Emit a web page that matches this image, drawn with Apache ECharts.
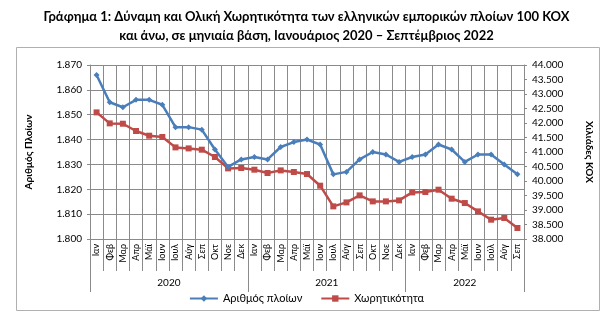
<!DOCTYPE html>
<html>
<head>
<meta charset="utf-8">
<script src="https://cdn.jsdelivr.net/npm/echarts@6/dist/echarts.min.js"></script>
<style>
  html, body { margin: 0; padding: 0; background: #fff; }
  #chart { width: 613px; height: 331px; }
</style>
</head>
<body>
<div id="chart"></div>
<script>
// Months, January 2020 – September 2022
const months = [
  'Ιαν','Φεβ','Μαρ','Απρ','Μάϊ','Ιουν','Ιουλ','Αύγ','Σεπ','Οκτ','Νοε','Δεκ',
  'Ιαν','Φεβ','Μαρ','Απρ','Μάϊ','Ιουν','Ιουλ','Αύγ','Σεπ','Οκτ','Νοε','Δεκ',
  'Ιαν','Φεβ','Μαρ','Απρ','Μάϊ','Ιουν','Ιούλ','Αύγ','Σεπ'
];
const years = ['2020', '2021', '2022'];
const monthsPerYear = [12, 12, 9];

// Number of ships (left axis)
const ships = [
  1866, 1855, 1853, 1856, 1856, 1854, 1845, 1845, 1844, 1836, 1829, 1832,
  1833, 1832, 1837, 1839, 1840, 1838, 1826, 1827, 1832, 1835, 1834, 1831,
  1833, 1834, 1838, 1836, 1831, 1834, 1834, 1830, 1826
];
// Gross tonnage, thousands GT (right axis)
const tonnage = [
  42366, 41987, 41975, 41724, 41562, 41517, 41159, 41124, 41080, 40828, 40435, 40448,
  40390, 40276, 40366, 40310, 40240, 39838, 39125, 39262, 39504, 39297, 39297, 39331,
  39607, 39620, 39700, 39390, 39240, 38952, 38666, 38724, 38380
];

const seriesNames = ['Αριθμός πλοίων', 'Χωρητικότητα'];
const leftName = 'Αριθμός Πλοίων';
const rightName = 'Χιλιάδες ΚΟΧ';
const titleText = 'Γράφημα 1: Δύναμη και Ολική Χωρητικότητα των ελληνικών εμπορικών πλοίων 100 ΚΟΧ\nκαι άνω, σε μηνιαία βάση, Ιανουάριος 2020 – Σεπτέμβριος 2022';

// Year group boundaries and centres, in month units
const yearEdges = [0];
monthsPerYear.forEach(n => yearEdges.push(yearEdges[yearEdges.length - 1] + n));
const yearCentres = monthsPerYear.map((n, i) => yearEdges[i] + n / 2);

const fmt = v => String(v).replace(/\B(?=(\d{3})+(?!\d))/g, '.');
const FONT = 'Lato, "Liberation Sans", sans-serif';
const GRID = '#8a8a8a';

const chart = echarts.init(document.getElementById('chart'), null, { renderer: 'canvas' });
chart.setOption({
  animation: false,
  textStyle: { fontFamily: FONT, color: '#000' },
  title: {
    text: titleText,
    left: 'center',
    top: 2,
    textStyle: { fontFamily: FONT, fontSize: 13, fontWeight: 'bold', color: '#000', lineHeight: 19 }
  },
  graphic: [{
    type: 'rect',
    shape: { x: 16.5, y: 47.5, width: 583, height: 263 },
    style: { fill: 'none', stroke: '#b0b0b0', lineWidth: 1 },
    silent: true
  }],
  legend: {
    bottom: 22,
    left: 'center',
    itemWidth: 28,
    itemHeight: 8,
    itemGap: 18,
    textStyle: { fontFamily: FONT, fontSize: 11, color: '#000' },
    data: seriesNames
  },
  grid: { left: 90, right: 89, top: 65, bottom: 92, containLabel: false },
  xAxis: [{
    type: 'category',
    data: months,
    boundaryGap: true,
    axisLine: { show: true, lineStyle: { color: GRID } },
    axisTick: { show: true, interval: 0, length: 32, lineStyle: { color: GRID } },
    splitLine: { show: true, interval: 0, lineStyle: { color: GRID } },
    axisLabel: { interval: 0, rotate: 90, margin: 5, fontSize: 9, color: '#000', fontFamily: FONT }
  }, {
    type: 'value',
    min: 0,
    max: months.length,
    position: 'bottom',
    axisLine: { show: false },
    splitLine: { show: false },
    axisTick: { show: true, customValues: yearEdges, length: 53, lineStyle: { color: GRID } },
    axisLabel: {
      customValues: yearCentres,
      margin: 39,
      fontSize: 10,
      color: '#000',
      fontFamily: FONT,
      formatter: v => years[yearCentres.indexOf(v)] || ''
    }
  }],
  yAxis: [{
    type: 'value',
    min: 1800, max: 1870, interval: 10,
    name: leftName,
    nameLocation: 'middle',
    nameRotate: 90,
    nameGap: 56,
    nameTextStyle: { fontFamily: FONT, fontSize: 10, fontWeight: 'bold', color: '#000' },
    axisLine: { show: true, lineStyle: { color: GRID } },
    axisTick: { show: true, length: 3, lineStyle: { color: GRID } },
    splitLine: { show: true, lineStyle: { color: GRID } },
    axisLabel: { margin: 8, fontSize: 10, color: '#000', fontFamily: FONT, formatter: fmt }
  }, {
    type: 'value',
    min: 38000, max: 44000, interval: 500,
    name: rightName,
    nameLocation: 'middle',
    nameRotate: -90,
    nameGap: 60,
    nameTextStyle: { fontFamily: FONT, fontSize: 10, fontWeight: 'bold', color: '#000' },
    axisLine: { show: true, lineStyle: { color: GRID } },
    axisTick: { show: true, length: 3, lineStyle: { color: GRID } },
    splitLine: { show: false },
    axisLabel: { margin: 8, fontSize: 10, color: '#000', fontFamily: FONT, formatter: fmt }
  }],
  series: [{
    name: seriesNames[0],
    type: 'line',
    xAxisIndex: 0,
    yAxisIndex: 0,
    data: ships,
    symbol: 'diamond',
    symbolSize: 6,
    lineStyle: { color: '#4a7ebb', width: 2.5 },
    itemStyle: { color: '#4a7ebb' },
    z: 3
  }, {
    name: seriesNames[1],
    type: 'line',
    xAxisIndex: 0,
    yAxisIndex: 1,
    data: tonnage,
    symbol: 'rect',
    symbolSize: 6,
    lineStyle: { color: '#be4b48', width: 2.5 },
    itemStyle: { color: '#be4b48' },
    z: 2
  }]
});
</script>
</body>
</html>
